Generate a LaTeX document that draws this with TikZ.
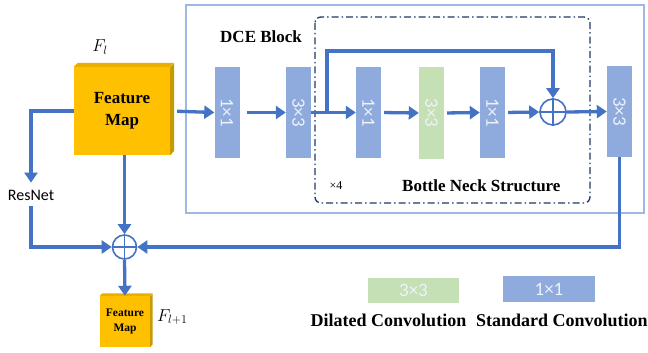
\documentclass[tikz,border=0pt]{standalone}
\usepackage{fontspec}
\setmainfont{Liberation Serif}
\newfontfamily\labelfont{Carlito}
\usetikzlibrary{arrows.meta}
\definecolor{convblue}{HTML}{8FAADC}
\definecolor{dilgreen}{HTML}{C5E0B4}
\definecolor{flow}{HTML}{4472C4}
\definecolor{fmgold}{HTML}{FFC000}
\definecolor{fmtop}{HTML}{E8AE00}
\definecolor{fmside}{HTML}{C89900}
\definecolor{blockframe}{HTML}{9DB8E6}
\definecolor{navy}{HTML}{1F3864}
\definecolor{convtext}{HTML}{EEF2FA}

\begin{document}
\begin{tikzpicture}[x=1pt,y=-1pt,
  conv/.style={fill=convblue, draw=none, minimum width=25pt, minimum height=91pt, inner sep=0pt},
  dil/.style={conv, fill=dilgreen},
  convlabel/.style={rotate=-90, text=convtext, font=\labelfont\fontsize{19}{19}\selectfont, inner sep=0pt},
  legendlabel/.style={text=convtext, font=\labelfont\fontsize{19}{19}\selectfont, inner sep=0pt},
  flowline/.style={draw=flow, line width=3.3pt},
  flowarrow/.style={flowline, -{Triangle[length=10pt,width=13pt]}},
  adder/.style={circle, draw=flow, fill=white, line width=1.6pt, minimum size=26pt, inner sep=0pt},
  fmap/.style={fill=fmgold, draw=none, inner sep=0pt, align=center},
  boldtext/.style={font=\bfseries\fontsize{17}{17}\selectfont, inner sep=0pt}
]
\useasboundingbox (0,0) rectangle (648,353);

% DCE block frame and bottleneck frame
\draw[blockframe, line width=1.2pt] (186,5) rectangle (644,213);
\draw[navy, line width=1.3pt, rounded corners=6pt,
      dash pattern=on 7pt off 3pt on 1.5pt off 3pt] (315,17) rectangle (590,203);

\node[boldtext, anchor=west] (dcetitle) at (220,37) {DCE Block};
\node[boldtext, anchor=west] (bntitle) at (402,186) {Bottle Neck Structure};
\node[font=\fontsize{12}{12}\selectfont, inner sep=0pt] (times4) at (336,186) {×4};

% input feature map (3D slab)
\node[fmap, minimum width=96pt, minimum height=88pt,
      font=\bfseries\fontsize{17}{22}\selectfont] (fm) at (122,111) {Feature\\Map};
\fill[fmside] (fm.south east) -- (fm.north east) -- ++(4,-4) -- ++(0,88) -- cycle;
\fill[fmtop] (fm.north west) -- ++(4,-4) -- ++(96,0) -- (fm.north east) -- cycle;
\node[font=\fontsize{17}{17}\selectfont, inner sep=0pt] (fl) at (100,47) {$F_l$};

% convolution stack
\node[conv] (b1) at (227,112.5) {};
\node[conv] (b2) at (298.5,112.5) {};
\node[conv] (b3) at (368.5,112.5) {};
\node[dil]  (b4) at (431.5,113) {};
\node[conv] (b5) at (492.5,112.5) {};
\node[conv] (b6) at (619.5,111.5) {};
\node[convlabel] at (b1) {1×1};
\node[convlabel] at (b2) {3×3};
\node[convlabel] at (b3) {1×1};
\node[convlabel] at (b4) {3×3};
\node[convlabel] at (b5) {1×1};
\node[convlabel] at (b6) {3×3};

% adders
\node[adder] (add1) at (553,112) {};
\draw[flow, line width=1.6pt] (add1.north) -- (add1.south) (add1.west) -- (add1.east);
\node[adder, minimum size=24pt] (add2) at (124.5,247) {};
\draw[flow, line width=1.6pt] (add2.north) -- (add2.south) (add2.west) -- (add2.east);

% output feature map
\node[fmap, minimum width=50pt, minimum height=51pt,
      font=\bfseries\fontsize{11.5}{15}\selectfont] (fm2) at (125,321.5) {Feature\\Map};
\fill[fmside] (fm2.south east) -- (fm2.north east) -- ++(2.5,-2.5) -- ++(0,51) -- cycle;
\fill[fmtop] (fm2.north west) -- ++(2.5,-2.5) -- ++(50,0) -- (fm2.north east) -- cycle;
\node[font=\fontsize{17}{17}\selectfont, inner sep=0pt, anchor=west] (fl1) at (157,317) {$F_{l+1}$};

\node[font=\labelfont\fontsize{16}{16}\selectfont, inner sep=0pt] (resnet) at (31,195) {ResNet};

% main path
\draw[flowarrow, shorten <=7pt] (fm.east) -- (b1.west);
\draw[flowarrow, shorten <=7pt] (b1.east) -- (b2.west);
\draw[flowarrow] (b2.east) -- (b3.west);
\draw[flowarrow, shorten <=3pt] (b3.east) -- (b4.west);
\draw[flowarrow, shorten <=3pt] (b4.east) -- (b5.west);
\draw[flowarrow, shorten <=3pt] (b5.east) -- (add1.west);
\draw[flowarrow] (add1.east) -- (b6.west);

% bottleneck skip connection
\coordinate (split) at (327,112);
\draw[flowarrow] (split) -- (327,51) -| (add1.north);

% outer residual paths
\draw[flowarrow, shorten >=7pt] (fm.west) -| (resnet.north);
\draw[flowarrow, shorten <=6pt] (resnet.south) |- (add2.west);
\draw[flowarrow] (add2 |- fm.south) -- (add2.north);
\draw[flowarrow] (b6.south) |- (add2.east);
\draw[flowarrow] (add2.south) -- (fm2.north);

% legend
\node[dil, minimum width=91pt, minimum height=25pt] (legdil) at (413.5,290.5) {};
\node[legendlabel] at (legdil) {3×3};
\node[conv, minimum width=92pt, minimum height=26pt] (legstd) at (549,289) {};
\node[legendlabel] at (legstd) {1×1};
\node[font=\bfseries\fontsize{18}{18}\selectfont, inner sep=0pt] (legdiltext) at (388.5,320) {Dilated Convolution};
\node[font=\bfseries\fontsize{18}{18}\selectfont, inner sep=0pt, anchor=west] (legstdtext) at (476,320) {Standard Convolution};
\end{tikzpicture}
\end{document}
